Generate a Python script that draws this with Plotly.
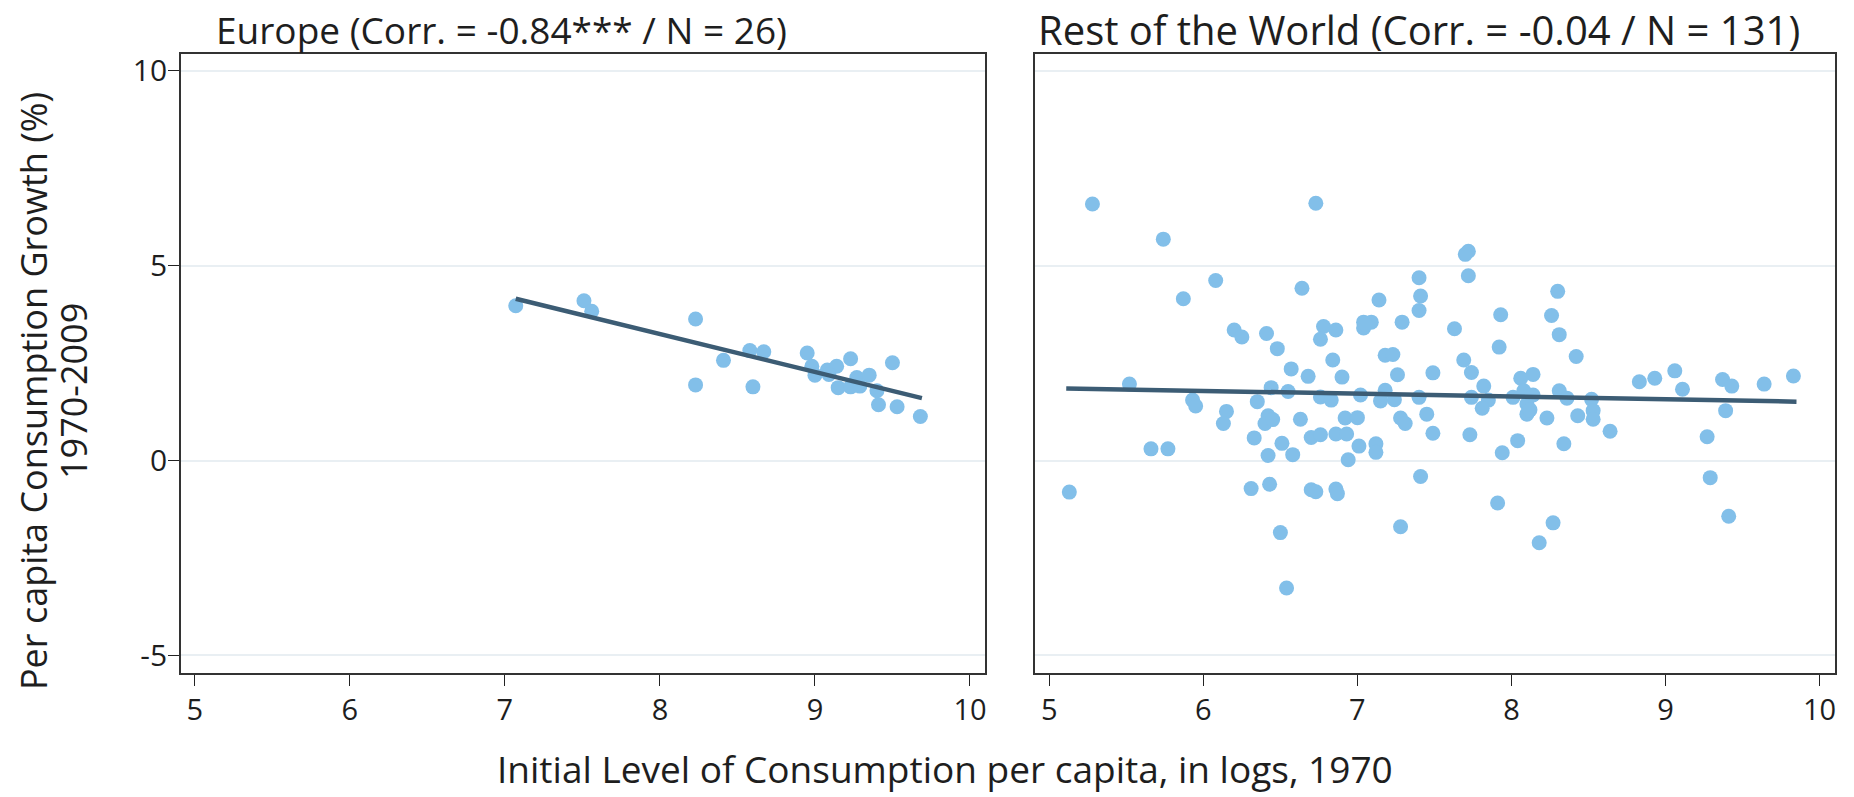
import plotly.graph_objects as go

# ---- Europe panel data ----
eu_x = [7.07, 7.51, 7.56, 8.23, 8.23, 8.41, 8.58, 8.67, 8.60, 8.95, 8.98, 9.00, 9.08,
        9.14, 9.23, 9.15, 9.23, 9.27, 9.35, 9.29, 9.40, 9.41, 9.50, 9.53, 9.68, 9.09]
eu_y = [3.97, 4.10, 3.83, 3.63, 1.94, 2.57, 2.82, 2.79, 1.89, 2.76, 2.42, 2.19, 2.32,
        2.42, 2.61, 1.87, 1.89, 2.13, 2.19, 1.91, 1.79, 1.43, 2.51, 1.38, 1.13, 2.21]
eu_fit_x = [7.07, 9.69]
eu_fit_y = [4.15, 1.60]

# ---- Rest of the World panel data ----
row_x = [5.28, 6.73, 5.74, 6.08, 6.64, 5.87, 7.40, 7.41, 7.40, 7.14, 7.04, 7.09, 7.04,
         7.29, 7.63, 6.20, 6.25, 6.41, 6.78, 6.86, 6.76, 6.48, 7.18, 7.23, 6.84, 6.57,
         6.68, 6.90, 7.26, 7.49, 5.52, 6.44, 6.55, 6.76, 6.83, 7.02, 7.18, 7.15, 7.24,
         7.40, 5.93, 5.95, 6.35, 6.15, 6.42, 6.63, 6.92, 7.00, 7.28, 7.45,
         6.13, 6.40, 7.31, 7.49, 6.33, 6.51, 6.42, 6.58, 6.70, 6.76, 6.86, 6.93, 7.01,
         6.94, 7.12, 7.12, 7.41, 5.66, 5.77, 5.13, 6.31, 6.43, 6.70, 6.73, 6.86, 6.87,
         6.50, 7.28, 6.54,
         7.72, 7.70, 7.72, 7.93, 7.92, 8.30, 8.26, 8.31, 8.42, 7.69, 7.74, 7.82, 7.74,
         7.85, 7.81, 8.06, 8.14, 8.01, 8.08, 8.14, 8.10, 8.10, 8.23, 8.31, 8.36, 8.43,
         8.52, 8.53, 8.83, 8.93, 9.06, 9.11, 9.37, 9.43, 9.64, 9.83, 9.39,
         8.53, 8.64, 9.27, 9.29, 9.41, 7.73, 8.04, 7.94, 8.34, 7.91, 8.27, 8.18,
         8.12, 7.05, 6.45]
row_y = [6.58, 6.60, 5.68, 4.62, 4.42, 4.15, 4.69, 4.22, 3.85, 4.12, 3.55, 3.55, 3.40,
         3.55, 3.38, 3.35, 3.17, 3.26, 3.44, 3.35, 3.11, 2.87, 2.70, 2.72, 2.58, 2.35,
         2.16, 2.14, 2.20, 2.25, 1.96, 1.87, 1.77, 1.63, 1.55, 1.68, 1.80, 1.53, 1.56,
         1.62, 1.55, 1.40, 1.51, 1.26, 1.15, 1.06, 1.09, 1.10, 1.09, 1.19,
         0.95, 0.95, 0.95, 0.70, 0.58, 0.44, 0.13, 0.15, 0.59, 0.66, 0.68, 0.68, 0.37,
         0.02, 0.43, 0.21, -0.41, 0.30, 0.30, -0.81, -0.72, -0.61, -0.75, -0.80, -0.73, -0.85,
         -1.85, -1.70, -3.27,
         5.37, 5.29, 4.74, 3.74, 2.91, 4.34, 3.72, 3.23, 2.67, 2.58, 2.26, 1.91, 1.62,
         1.55, 1.34, 2.11, 2.21, 1.62, 1.79, 1.68, 1.45, 1.19, 1.09, 1.79, 1.60, 1.15,
         1.57, 1.28, 2.02, 2.11, 2.30, 1.83, 2.08, 1.91, 1.96, 2.17, 1.28,
         1.06, 0.75, 0.61, -0.44, -1.43, 0.66, 0.51, 0.20, 0.43, -1.09, -1.60, -2.11,
         1.30, 3.50, 1.05]
row_fit_x = [5.11, 9.85]
row_fit_y = [1.85, 1.51]

x_ticks = [5, 6, 7, 8, 9, 10]
y_ticks = [-5, 0, 5, 10]
y_ticktext = ["-5", "0", "5", "10"]

title_left = "Europe (Corr. = -0.84*** / N = 26)"
title_right = "Rest of the World (Corr. = -0.04 / N = 131)"
x_title = "Initial Level of Consumption per capita, in logs, 1970"
y_title_1 = "Per capita Consumption Growth (%)"
y_title_2 = "1970-2009"

FONT = "Open Sans"
DOT = "#82bfe9"
LINE = "#3c5c74"
GRID = "#e9eff3"
TXT = "#1e1e1e"

fig = go.Figure()
for xs, ys, fx, fy, xa, ya in [(eu_x, eu_y, eu_fit_x, eu_fit_y, "x", "y"),
                                (row_x, row_y, row_fit_x, row_fit_y, "x2", "y2")]:
    fig.add_trace(go.Scatter(x=xs, y=ys, mode="markers", xaxis=xa, yaxis=ya,
                             marker=dict(size=15, color=DOT, line=dict(width=0)),
                             showlegend=False, hoverinfo="x+y"))
    fig.add_trace(go.Scatter(x=fx, y=fy, mode="lines", xaxis=xa, yaxis=ya,
                             line=dict(color=LINE, width=4.5), showlegend=False))

xrange = [4.91, 10.1]
yrange = [-5.45, 10.44]
ydom = [1 - 674 / 797, 1 - 50 / 797]

common_x = dict(range=xrange, tickvals=x_ticks, ticks="outside", ticklen=11, tickwidth=1.2,
                tickcolor="#222", showgrid=False, zeroline=False, showline=True, mirror=True,
                linecolor="#333", linewidth=1.5, tickfont=dict(family=FONT, size=29, color=TXT))
common_y = dict(range=yrange, tickvals=y_ticks, ticktext=y_ticktext, showgrid=True,
                gridcolor=GRID, gridwidth=1.5,
                zeroline=False, showline=True, mirror=True, linecolor="#333", linewidth=1.5)

fig.update_layout(
    width=1854, height=797,
    margin=dict(l=0, r=0, t=0, b=0),
    paper_bgcolor="white", plot_bgcolor="white",
    font=dict(family=FONT, color=TXT),
    xaxis=dict(domain=[181 / 1854, 986 / 1854], anchor="y", **common_x),
    xaxis2=dict(domain=[1036 / 1854, 1836 / 1854], anchor="y2", **common_x),
    yaxis=dict(domain=ydom, anchor="x", ticks="outside", ticklen=11, tickwidth=1.2,
               tickcolor="#222", ticklabelstandoff=-5,
               showticklabels=True, tickfont=dict(family=FONT, size=30, color=TXT), **common_y),
    yaxis2=dict(domain=ydom, anchor="x2", ticks="", showticklabels=False, **common_y),
    annotations=[
        dict(text=title_left, x=214 / 1854, y=1 - 26 / 797, xref="paper", yref="paper",
             xanchor="left", yanchor="middle", showarrow=False,
             font=dict(family=FONT, size=37, color=TXT)),
        dict(text=title_right, x=1037 / 1854, y=1 - 26 / 797, xref="paper", yref="paper",
             xanchor="left", yanchor="middle", showarrow=False,
             font=dict(family=FONT, size=40, color=TXT)),
        dict(text=x_title, x=946 / 1854, y=1 - 770 / 797, xref="paper", yref="paper",
             xanchor="center", yanchor="middle", showarrow=False,
             font=dict(family=FONT, size=37, color=TXT)),
        dict(text=y_title_1, x=33 / 1854, y=1 - 390 / 797, xref="paper", yref="paper",
             xanchor="center", yanchor="middle", showarrow=False, textangle=-90,
             font=dict(family=FONT, size=36, color=TXT)),
        dict(text=y_title_2, x=73 / 1854, y=1 - 390 / 797, xref="paper", yref="paper",
             xanchor="center", yanchor="middle", showarrow=False, textangle=-90,
             font=dict(family=FONT, size=36, color=TXT)),
    ],
)

fig.write_html("out.html")
